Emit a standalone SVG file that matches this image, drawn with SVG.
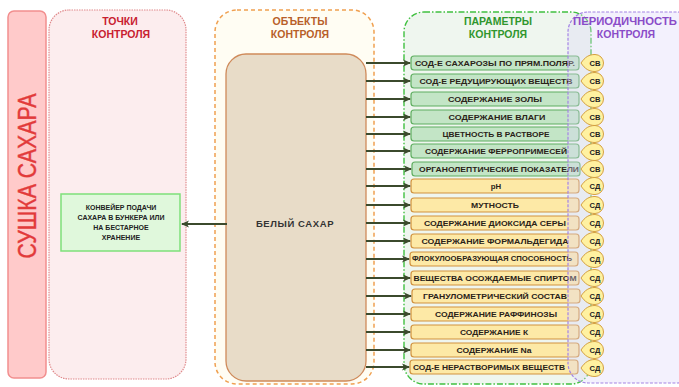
<svg xmlns="http://www.w3.org/2000/svg" xmlns:xlink="http://www.w3.org/1999/xlink" width="679" height="387" viewBox="0 0 679 387">
<style>
.ttl{font-family:"Liberation Sans",Arial,sans-serif;font-weight:bold;font-size:10.5px;text-anchor:middle}
.pt{font-family:"Liberation Sans",Arial,sans-serif;font-weight:bold;font-size:7.8px;fill:#2a2218;text-anchor:middle}
.g{fill:#c3e5c6;stroke:#5fae60;stroke-width:1.2}
.y{fill:#fde9a6;stroke:#d1923e;stroke-width:1.2}
.bd{fill:#fff1a0;stroke:#d4a040;stroke-width:1}
.bt{font-family:"Liberation Sans",Arial,sans-serif;font-weight:bold;font-size:7.6px;fill:#222;text-anchor:middle}
.ar{stroke:#3b4a2c;stroke-width:2;fill:none;marker-end:url(#ah)}
</style>
<defs>
<marker id="ah" markerWidth="8" markerHeight="8" refX="7" refY="4" orient="auto" markerUnits="userSpaceOnUse">
<path d="M0,0.5 L8,4 L0,7.5 L2,4 Z" fill="#3b4a2c"/>
</marker>
<path id="badge" d="M581,0 C585,-6 589,-8.5 595,-8.5 A8.5,8.5 0 0 1 595,8.5 C589,8.5 585,6 581,0 Z"/>
</defs>

<g id="side">
<rect x="8" y="11" width="38" height="367" rx="6" fill="#ffcaca" stroke="#f28e8e" stroke-width="1.5"/>
<text transform="translate(36,176) rotate(-90)" font-family="'Liberation Sans',Arial,sans-serif" font-size="26" fill="#e23a3a" stroke="#e23a3a" stroke-width="0.4" text-anchor="middle" textLength="165" lengthAdjust="spacingAndGlyphs">СУШКА  САХАРА</text>
</g>

<g id="points">
<rect x="49" y="10" width="137" height="369" rx="20" fill="#fcedee" stroke="#e08a8c" stroke-width="1.2" stroke-dasharray="1.5 1"/>
<text class="ttl" x="120" y="25" fill="#c82030">ТОЧКИ</text>
<text class="ttl" x="121" y="38" fill="#c82030">КОНТРОЛЯ</text>
</g>

<g id="conveyor">
<rect x="61" y="194" width="119" height="57" fill="#e0f8dc" stroke="#7ee07a" stroke-width="1.5"/>
<g font-family="'Liberation Sans',Arial,sans-serif" font-weight="bold" font-size="7" fill="#222" text-anchor="middle">
<text x="121" y="210">КОНВЕЙЕР ПОДАЧИ</text>
<text x="121" y="220">САХАРА В БУНКЕРА ИЛИ</text>
<text x="121" y="230">НА БЕСТАРНОЕ</text>
<text x="121" y="240">ХРАНЕНИЕ</text>
</g>
</g>

<g id="objects">
<rect x="215" y="10" width="159" height="374" rx="22" fill="#fffdf3" stroke="#f0a050" stroke-width="1.5" stroke-dasharray="4 3"/>
<text class="ttl" x="300" y="25" fill="#b8602a">ОБЪЕКТЫ</text>
<text class="ttl" x="300" y="38" fill="#b8602a">КОНТРОЛЯ</text>
</g>

<g id="sugar">
<rect x="226" y="54" width="140" height="327" rx="20" fill="#e8dcc8" stroke="#cf8a5a" stroke-width="1.3"/>
<text x="295" y="227" font-family="'Liberation Sans',Arial,sans-serif" font-weight="bold" font-size="9.5" fill="#333" text-anchor="middle" letter-spacing="0.6">БЕЛЫЙ  САХАР</text>
</g>

<g id="params">
<rect x="404" y="12" width="187" height="372" rx="20" fill="#eff6ef" stroke="#40c040" stroke-width="1.4" stroke-dasharray="6 2 1.5 2"/>
<text class="ttl" x="498" y="25" fill="#30962e">ПАРАМЕТРЫ</text>
<text class="ttl" x="498" y="38" fill="#30962e">КОНТРОЛЯ</text>
</g>

<g id="param-boxes">
<rect class="g" x="411" y="56" width="168" height="14" rx="3"/>
<text class="pt" x="495" y="65.8" textLength="160" lengthAdjust="spacingAndGlyphs">СОД-Е  САХАРОЗЫ ПО ПРЯМ.ПОЛЯР.</text>
<rect class="g" x="411" y="74" width="168" height="14" rx="3"/>
<text class="pt" x="496" y="83.8" textLength="153" lengthAdjust="spacingAndGlyphs">СОД-Е  РЕДУЦИРУЮЩИХ ВЕЩЕСТВ</text>
<rect class="g" x="411" y="92" width="168" height="14" rx="3"/>
<text class="pt" x="495" y="101.8" textLength="94" lengthAdjust="spacingAndGlyphs">СОДЕРЖАНИЕ  ЗОЛЫ</text>
<rect class="g" x="411" y="110" width="168" height="14" rx="3"/>
<text class="pt" x="497" y="119.8" textLength="97" lengthAdjust="spacingAndGlyphs">СОДЕРЖАНИЕ  ВЛАГИ</text>
<rect class="g" x="411" y="127" width="168" height="14" rx="3"/>
<text class="pt" x="496" y="136.8" textLength="107" lengthAdjust="spacingAndGlyphs">ЦВЕТНОСТЬ В РАСТВОРЕ</text>
<rect class="g" x="411" y="144" width="168" height="14" rx="3"/>
<text class="pt" x="496" y="153.8" textLength="142" lengthAdjust="spacingAndGlyphs">СОДЕРЖАНИЕ ФЕРРОПРИМЕСЕЙ</text>
<rect class="g" x="412" y="162" width="168" height="14" rx="3"/>
<text class="pt" x="499" y="171.8" textLength="160" lengthAdjust="spacingAndGlyphs">ОРГАНОЛЕПТИЧЕСКИЕ ПОКАЗАТЕЛИ</text>
<rect class="y" x="411" y="179" width="168" height="14" rx="3"/>
<text class="pt" x="496" y="188.8">pH</text>
<rect class="y" x="411" y="198" width="168" height="14" rx="3"/>
<text class="pt" x="495" y="207.8" textLength="48" lengthAdjust="spacingAndGlyphs">МУТНОСТЬ</text>
<rect class="y" x="411" y="216" width="168" height="14" rx="3"/>
<text class="pt" x="495" y="225.8" textLength="142" lengthAdjust="spacingAndGlyphs">СОДЕРЖАНИЕ  ДИОКСИДА СЕРЫ</text>
<rect class="y" x="411" y="234" width="168" height="14" rx="3"/>
<text class="pt" x="495" y="243.8" textLength="147" lengthAdjust="spacingAndGlyphs">СОДЕРЖАНИЕ  ФОРМАЛЬДЕГИДА</text>
<rect class="y" x="410" y="252" width="168" height="14" rx="3"/>
<text class="pt" x="492" y="261.2" font-size="6.2" textLength="160" lengthAdjust="spacingAndGlyphs">ФЛОКУЛООБРАЗУЮЩАЯ  СПОСОБНОСТЬ</text>
<rect class="y" x="411" y="271" width="168" height="14" rx="3"/>
<text class="pt" x="495" y="280.8" textLength="163" lengthAdjust="spacingAndGlyphs">ВЕЩЕСТВА ОСОЖДАЕМЫЕ СПИРТОМ</text>
<rect class="y" x="412" y="289" width="168" height="14" rx="3"/>
<text class="pt" x="495" y="298.8" textLength="144" lengthAdjust="spacingAndGlyphs">ГРАНУЛОМЕТРИЧЕСКИЙ СОСТАВ</text>
<rect class="y" x="411" y="307" width="168" height="14" rx="3"/>
<text class="pt" x="496" y="316.8" textLength="122" lengthAdjust="spacingAndGlyphs">СОДЕРЖАНИЕ РАФФИНОЗЫ</text>
<rect class="y" x="411" y="325" width="168" height="14" rx="3"/>
<text class="pt" x="494" y="334.8" textLength="68" lengthAdjust="spacingAndGlyphs">СОДЕРЖАНИЕ К</text>
<rect class="y" x="411" y="343" width="168" height="14" rx="3"/>
<text class="pt" x="494" y="352.8" textLength="75" lengthAdjust="spacingAndGlyphs">СОДЕРЖАНИЕ Na</text>
<rect class="y" x="410" y="360" width="168" height="14" rx="3"/>
<text class="pt" x="489" y="369.8" textLength="152" lengthAdjust="spacingAndGlyphs">СОД-Е НЕРАСТВОРИМЫХ ВЕЩЕСТВ</text>
</g>

<g id="periodicity">
<rect x="568" y="12" width="130" height="371" rx="20" fill="#dcd8f8" fill-opacity="0.35" stroke="#a484e4" stroke-width="1.2" stroke-dasharray="3 1.5"/>
<text class="ttl" x="625" y="25" fill="#8a4cc8" textLength="104" lengthAdjust="spacingAndGlyphs">ПЕРИОДИЧНОСТЬ</text>
<text class="ttl" x="626" y="38" fill="#8a4cc8">КОНТРОЛЯ</text>
</g>

<g id="badges">
<use href="#badge" class="bd" y="63"/><text class="bt" x="595" y="65.7">СВ</text>
<use href="#badge" class="bd" y="81"/><text class="bt" x="595" y="83.7">СВ</text>
<use href="#badge" class="bd" y="99"/><text class="bt" x="595" y="101.7">СВ</text>
<use href="#badge" class="bd" y="117"/><text class="bt" x="595" y="119.7">СВ</text>
<use href="#badge" class="bd" y="134"/><text class="bt" x="595" y="136.7">СВ</text>
<use href="#badge" class="bd" y="152"/><text class="bt" x="595" y="154.7">СВ</text>
<use href="#badge" class="bd" y="169"/><text class="bt" x="595" y="171.7">СВ</text>
<use href="#badge" class="bd" y="186"/><text class="bt" x="595" y="188.7">СД</text>
<use href="#badge" class="bd" y="205"/><text class="bt" x="595" y="207.7">СД</text>
<use href="#badge" class="bd" y="223"/><text class="bt" x="595" y="225.7">СД</text>
<use href="#badge" class="bd" y="241"/><text class="bt" x="595" y="243.7">СД</text>
<use href="#badge" class="bd" y="259"/><text class="bt" x="595" y="261.7">СД</text>
<use href="#badge" class="bd" y="278"/><text class="bt" x="595" y="280.7">СД</text>
<use href="#badge" class="bd" y="296"/><text class="bt" x="595" y="298.7">СД</text>
<use href="#badge" class="bd" y="314"/><text class="bt" x="595" y="316.7">СД</text>
<use href="#badge" class="bd" y="332"/><text class="bt" x="595" y="334.7">СД</text>
<use href="#badge" class="bd" y="350"/><text class="bt" x="595" y="352.7">СД</text>
<use href="#badge" class="bd" y="368"/><text class="bt" x="595" y="370.7">СД</text>
</g>

<g id="connectors">
<line class="ar" x1="366" y1="63" x2="410" y2="63"/>
<line class="ar" x1="366" y1="81" x2="410" y2="81"/>
<line class="ar" x1="366" y1="99" x2="410" y2="99"/>
<line class="ar" x1="366" y1="117" x2="410" y2="117"/>
<line class="ar" x1="366" y1="134" x2="410" y2="134"/>
<line class="ar" x1="366" y1="151" x2="410" y2="151"/>
<line class="ar" x1="366" y1="169" x2="411" y2="169"/>
<line class="ar" x1="366" y1="186" x2="410" y2="186"/>
<line class="ar" x1="366" y1="205" x2="410" y2="205"/>
<line class="ar" x1="366" y1="223" x2="410" y2="223"/>
<line class="ar" x1="366" y1="241" x2="410" y2="241"/>
<line class="ar" x1="366" y1="259" x2="409" y2="259"/>
<line class="ar" x1="366" y1="278" x2="410" y2="278"/>
<line class="ar" x1="366" y1="296" x2="411" y2="296"/>
<line class="ar" x1="366" y1="314" x2="410" y2="314"/>
<line class="ar" x1="366" y1="332" x2="410" y2="332"/>
<line class="ar" x1="366" y1="350" x2="410" y2="350"/>
<line class="ar" x1="366" y1="367" x2="409" y2="367"/>
<line class="ar" x1="227" y1="224" x2="182" y2="224"/>
</g>
</svg>
